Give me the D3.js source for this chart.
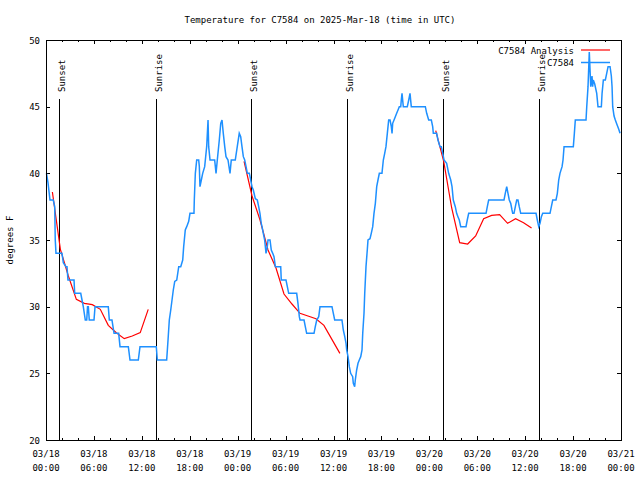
<!DOCTYPE html>
<html>
<head>
<meta charset="utf-8">
<script src="https://cdn.jsdelivr.net/npm/d3@7"></script>
<style>
  html, body { margin: 0; padding: 0; background: #fff; }
  svg { display: block; }
  text { font-family: "DejaVu Sans Mono", "Liberation Mono", monospace; font-size: 9px; fill: #000; }
</style>
</head>
<body>
<svg id="chart" width="640" height="480"></svg>
<script>
// ---------- data ----------
const titleText = "Temperature for C7584 on 2025-Mar-18 (time in UTC)";
const yLabelText = "degrees F";
const seriesNames = ["C7584 Analysis", "C7584"];

// hours since 2025-03-18 00:00 UTC
const xTickHours = [0, 6, 12, 18, 24, 30, 36, 42, 48, 54, 60, 66, 72];
const xTickDates = ["03/18","03/18","03/18","03/18","03/19","03/19","03/19","03/19","03/20","03/20","03/20","03/20","03/21"];
const xTickTimes = ["00:00","06:00","12:00","18:00","00:00","06:00","12:00","18:00","00:00","06:00","12:00","18:00","00:00"];
const yTicks = [20, 25, 30, 35, 40, 45, 50];

const sunHours = [1.67, 13.81, 25.71, 37.73, 49.75, 61.77];
const sunLabels = ["Sunset", "Sunrise", "Sunset", "Sunrise", "Sunset", "Sunrise"];

// analysis (red), three runs
const anaHours1 = [0.8, 1.8, 2.8, 3.8, 4.8, 5.8, 6.8, 7.8, 8.8, 9.8, 10.8, 11.8, 12.8];
const anaTemps1 = [38.6, 34.3, 32.3, 30.55, 30.25, 30.15, 29.8, 28.6, 28.05, 27.6, 27.8, 28.05, 29.8];
const anaHours2 = [24.8, 25.8, 26.8, 27.8, 28.8, 29.8, 30.8, 31.8, 32.8, 33.8, 34.8, 35.8, 36.8];
const anaTemps2 = [40.9, 38.3, 36.5, 34.25, 32.9, 30.95, 30.2, 29.5, 29.3, 29.1, 28.6, 27.55, 26.5];
const anaHours3 = [48.8, 49.8, 50.8, 51.8, 52.8, 53.8, 54.8, 55.8, 56.8, 57.8, 58.8, 59.8, 60.8];
const anaTemps3 = [43.2, 40.9, 37.4, 34.8, 34.7, 35.3, 36.6, 36.85, 36.9, 36.25, 36.6, 36.3, 35.9];

// observations (blue)
const obsHours = [
  0.06, 0.25, 0.5, 0.91, 1.09, 1.16, 1.25, 2.0, 2.17, 2.5, 2.63, 2.75, 3.51, 3.59, 4.35, 4.51, 4.67, 4.92, 5.1, 5.2,
  5.3, 5.42, 6.01, 6.14, 7.8, 7.93, 8.26, 8.52, 9.1, 9.27, 10.31, 10.52, 11.56, 11.77, 13.81, 13.94, 15.11, 15.28, 15.44, 15.62,
  15.78, 15.94, 16.12, 16.37, 16.62, 16.87, 17.12, 17.24, 17.44, 17.62, 17.87, 18.03, 18.53, 18.57, 18.7, 18.87, 19.12, 19.2, 19.28, 19.45,
  19.62, 19.87, 20.12, 20.29, 20.37, 20.54, 21.12, 21.29, 21.45, 21.7, 21.88, 22.04, 22.2, 22.38, 22.54, 22.79, 23.04, 23.2, 23.7, 23.95,
  24.2, 24.38, 24.54, 24.71, 24.88, 25.05, 25.21, 25.46, 25.55, 25.71, 25.8, 25.96, 26.21, 26.46, 26.63, 26.79, 26.95, 27.05, 27.21, 27.38,
  27.55, 27.71, 27.8, 28.05, 28.21, 28.39, 28.55, 28.72, 29.39, 29.46, 30.05, 30.22, 30.39, 31.39, 31.55, 31.72, 31.81, 32.31, 32.47, 32.64,
  33.56, 33.72, 33.9, 34.15, 34.31, 35.81, 35.98, 36.15, 37.06, 37.23, 37.41, 37.57, 37.65, 37.82, 37.98, 38.15, 38.4, 38.48, 38.65, 38.73,
  38.9, 39.07, 39.23, 39.41, 39.57, 39.66, 39.82, 39.91, 40.07, 40.23, 40.32, 40.57, 40.73, 40.91, 41.07, 41.24, 41.41, 41.57, 41.74, 42.07,
  42.24, 42.41, 42.57, 42.74, 42.91, 43.08, 43.24, 43.33, 43.41, 43.58, 43.74, 43.91, 44.08, 44.24, 44.42, 44.49, 44.58, 44.74, 45.24, 45.42,
  45.58, 45.74, 47.5, 47.67, 47.92, 48.25, 48.42, 48.5, 48.92, 49.08, 49.34, 49.5, 49.68, 49.84, 50.17, 50.42, 50.68, 50.84, 51.0, 51.25,
  51.42, 51.58, 51.75, 51.93, 52.59, 52.75, 52.93, 55.1, 55.26, 55.43, 57.35, 57.51, 57.69, 57.85, 58.01, 58.19, 58.35, 58.44, 58.6, 58.77,
  58.94, 59.1, 59.26, 59.44, 61.36, 61.52, 61.7, 61.86, 62.03, 62.2, 63.11, 63.28, 63.45, 63.86, 64.03, 64.2, 64.36, 64.62, 64.74, 64.87,
  66.03, 66.16, 66.28, 67.62, 67.71, 67.87, 68.03, 68.21, 68.37, 68.45, 68.53, 68.71, 68.96, 69.12, 69.54, 69.63, 69.79, 70.04, 70.21, 70.38,
  70.63, 70.79, 70.88, 70.96, 71.13, 71.29, 71.47, 71.72, 71.88
];
const obsTemps = [
  40, 39.3, 38, 38, 37.5, 35, 34, 34, 33.3, 33, 33, 32, 32, 31, 31, 30.5, 30, 29, 29, 30,
  30, 29, 29, 30, 30, 29, 29, 28, 28, 27, 27, 26, 26, 27, 27, 26, 26, 27.5, 29, 29.75,
  30.5, 31.25, 31.9, 32, 33, 33, 33.5, 34.5, 35.75, 36, 36.4, 37, 37, 38, 40, 41, 41, 40.5, 39, 39.5,
  40, 40.5, 42, 44, 42, 41, 41, 40, 41, 42.5, 43.75, 44, 43, 42, 41.25, 41, 40, 41, 41, 42,
  43, 42.75, 42, 41.25, 41, 40.5, 40, 40, 39.75, 39.25, 39, 38.75, 38.1, 38, 37.5, 37, 36.25, 36, 35.5, 35,
  34, 34.5, 35, 35, 34.25, 34, 33.75, 33, 33, 32, 32, 31.5, 31, 31, 30.25, 29.25, 29, 29, 28.5, 28,
  28, 28.5, 29, 29.25, 30, 30, 29.5, 29, 29, 28.25, 27.75, 27.25, 26.75, 26.25, 25.5, 25, 24.75, 24.25, 24, 24.5,
  25.25, 25.75, 26, 26.25, 26.75, 28, 29.5, 31, 33, 34.25, 35, 35.1, 35.5, 36, 37, 37.75, 39, 39.5, 40, 40,
  41, 41.5, 42, 43, 44, 44, 43.5, 43, 43.75, 44, 44.25, 44.5, 44.75, 45, 45, 45.5, 46, 45, 45, 45.5,
  46, 45, 45, 44.5, 44, 44, 43.5, 43, 43, 42.5, 42, 42, 41.5, 41, 40.75, 40, 39.5, 39, 38, 37.5,
  37, 36.75, 36.5, 36, 36, 36.5, 37, 37, 37.5, 38, 38, 38.5, 39, 38.5, 38, 37.75, 37.25, 37, 37, 37.5,
  38, 38, 37.5, 37, 37, 36.5, 36, 36.25, 36.75, 37, 37, 37.5, 38, 38, 38.5, 39.5, 40, 40.5, 41, 42,
  42, 43, 44, 44, 45, 46.5, 49.1, 46.5, 47.3, 46.5, 47, 46.7, 46, 45, 45, 46, 47, 47, 47.5, 48,
  48, 47.3, 46.5, 45, 44.3, 44, 43.7, 43.3, 43
];

// ---------- layout ----------
const svg = d3.select("#chart");
const mLeft = 46, mRight = 621, mTop = 40, mBottom = 440;
const x = d3.scaleLinear().domain([0, 72]).range([mLeft, mRight]);
const y = d3.scaleLinear().domain([20, 50]).range([mBottom, mTop]);
const colors = ["#ff0000", "#1e90ff"];

// title
svg.append("text").attr("x", 320).attr("y", 23).attr("text-anchor", "middle").text(titleText);

// y label
svg.append("text")
  .attr("transform", `translate(13,240) rotate(-90)`)
  .attr("text-anchor", "middle").text(yLabelText);

// axes (inward ticks)
const minorHours = d3.range(0, 73, 2).filter(h => h % 6 !== 0);
function addAxis(axis, tx, ty) {
  const g = svg.append("g").attr("transform", `translate(${tx},${ty})`).call(axis);
  g.select(".domain").remove();
  g.selectAll("line").attr("stroke", "#000").attr("shape-rendering", "crispEdges");
  return g;
}
addAxis(d3.axisBottom(x).tickValues(xTickHours).tickSize(-4).tickFormat(""), 0, mBottom);
addAxis(d3.axisBottom(x).tickValues(minorHours).tickSize(-2).tickFormat(""), 0, mBottom);
addAxis(d3.axisTop(x).tickValues(xTickHours).tickSize(-4).tickFormat(""), 0, mTop);
addAxis(d3.axisTop(x).tickValues(minorHours).tickSize(-2).tickFormat(""), 0, mTop);
addAxis(d3.axisLeft(y).tickValues(yTicks).tickSize(-4).tickFormat(""), mLeft, 0);
addAxis(d3.axisRight(y).tickValues(yTicks).tickSize(-4).tickFormat(""), mRight, 0);

// x tick labels (two lines)
const xl = svg.append("g");
xTickHours.forEach((h, i) => {
  const t = xl.append("text").attr("text-anchor", "middle");
  t.append("tspan").attr("x", x(h)).attr("y", 457).text(xTickDates[i]);
  t.append("tspan").attr("x", x(h)).attr("y", 471).text(xTickTimes[i]);
});
// y tick labels
svg.append("g").selectAll("text").data(yTicks).join("text")
  .attr("x", 40).attr("y", d => y(d) + 3.5).attr("text-anchor", "end").text(d => d);

// sunrise / sunset markers
sunHours.forEach((h, i) => {
  svg.append("line").attr("x1", x(h)).attr("x2", x(h)).attr("y1", 99).attr("y2", mBottom)
    .attr("stroke", "#000").attr("shape-rendering", "crispEdges");
  svg.append("text")
    .attr("transform", `translate(${x(h) + 5.5},92) rotate(-90)`)
    .attr("text-anchor", "start").text(sunLabels[i]);
});

// lines
const line = d3.line().x(d => x(d[0])).y(d => y(d[1]));
[[anaHours1, anaTemps1], [anaHours2, anaTemps2], [anaHours3, anaTemps3]].forEach(([hs, ts]) => {
  svg.append("path").datum(hs.map((h, i) => [h, ts[i]]))
    .attr("d", line).attr("fill", "none").attr("stroke", colors[0]).attr("stroke-width", 1.2);
});
svg.append("path").datum(obsHours.map((h, i) => [h, obsTemps[i]]))
  .attr("d", line).attr("fill", "none").attr("stroke", colors[1]).attr("stroke-width", 1.5);

// frame
svg.append("rect").attr("x", mLeft).attr("y", mTop).attr("width", mRight - mLeft).attr("height", mBottom - mTop)
  .attr("fill", "none").attr("stroke", "#000").attr("shape-rendering", "crispEdges");

// legend
seriesNames.forEach((name, i) => {
  const ly = 50 + i * 12.5;
  svg.append("text").attr("x", 574).attr("y", ly + 3.5).attr("text-anchor", "end").text(name);
  svg.append("line").attr("x1", 581).attr("x2", 610).attr("y1", ly).attr("y2", ly)
    .attr("stroke", colors[i]).attr("stroke-width", i === 0 ? 1.2 : 1.5);
});
</script>
</body>
</html>
